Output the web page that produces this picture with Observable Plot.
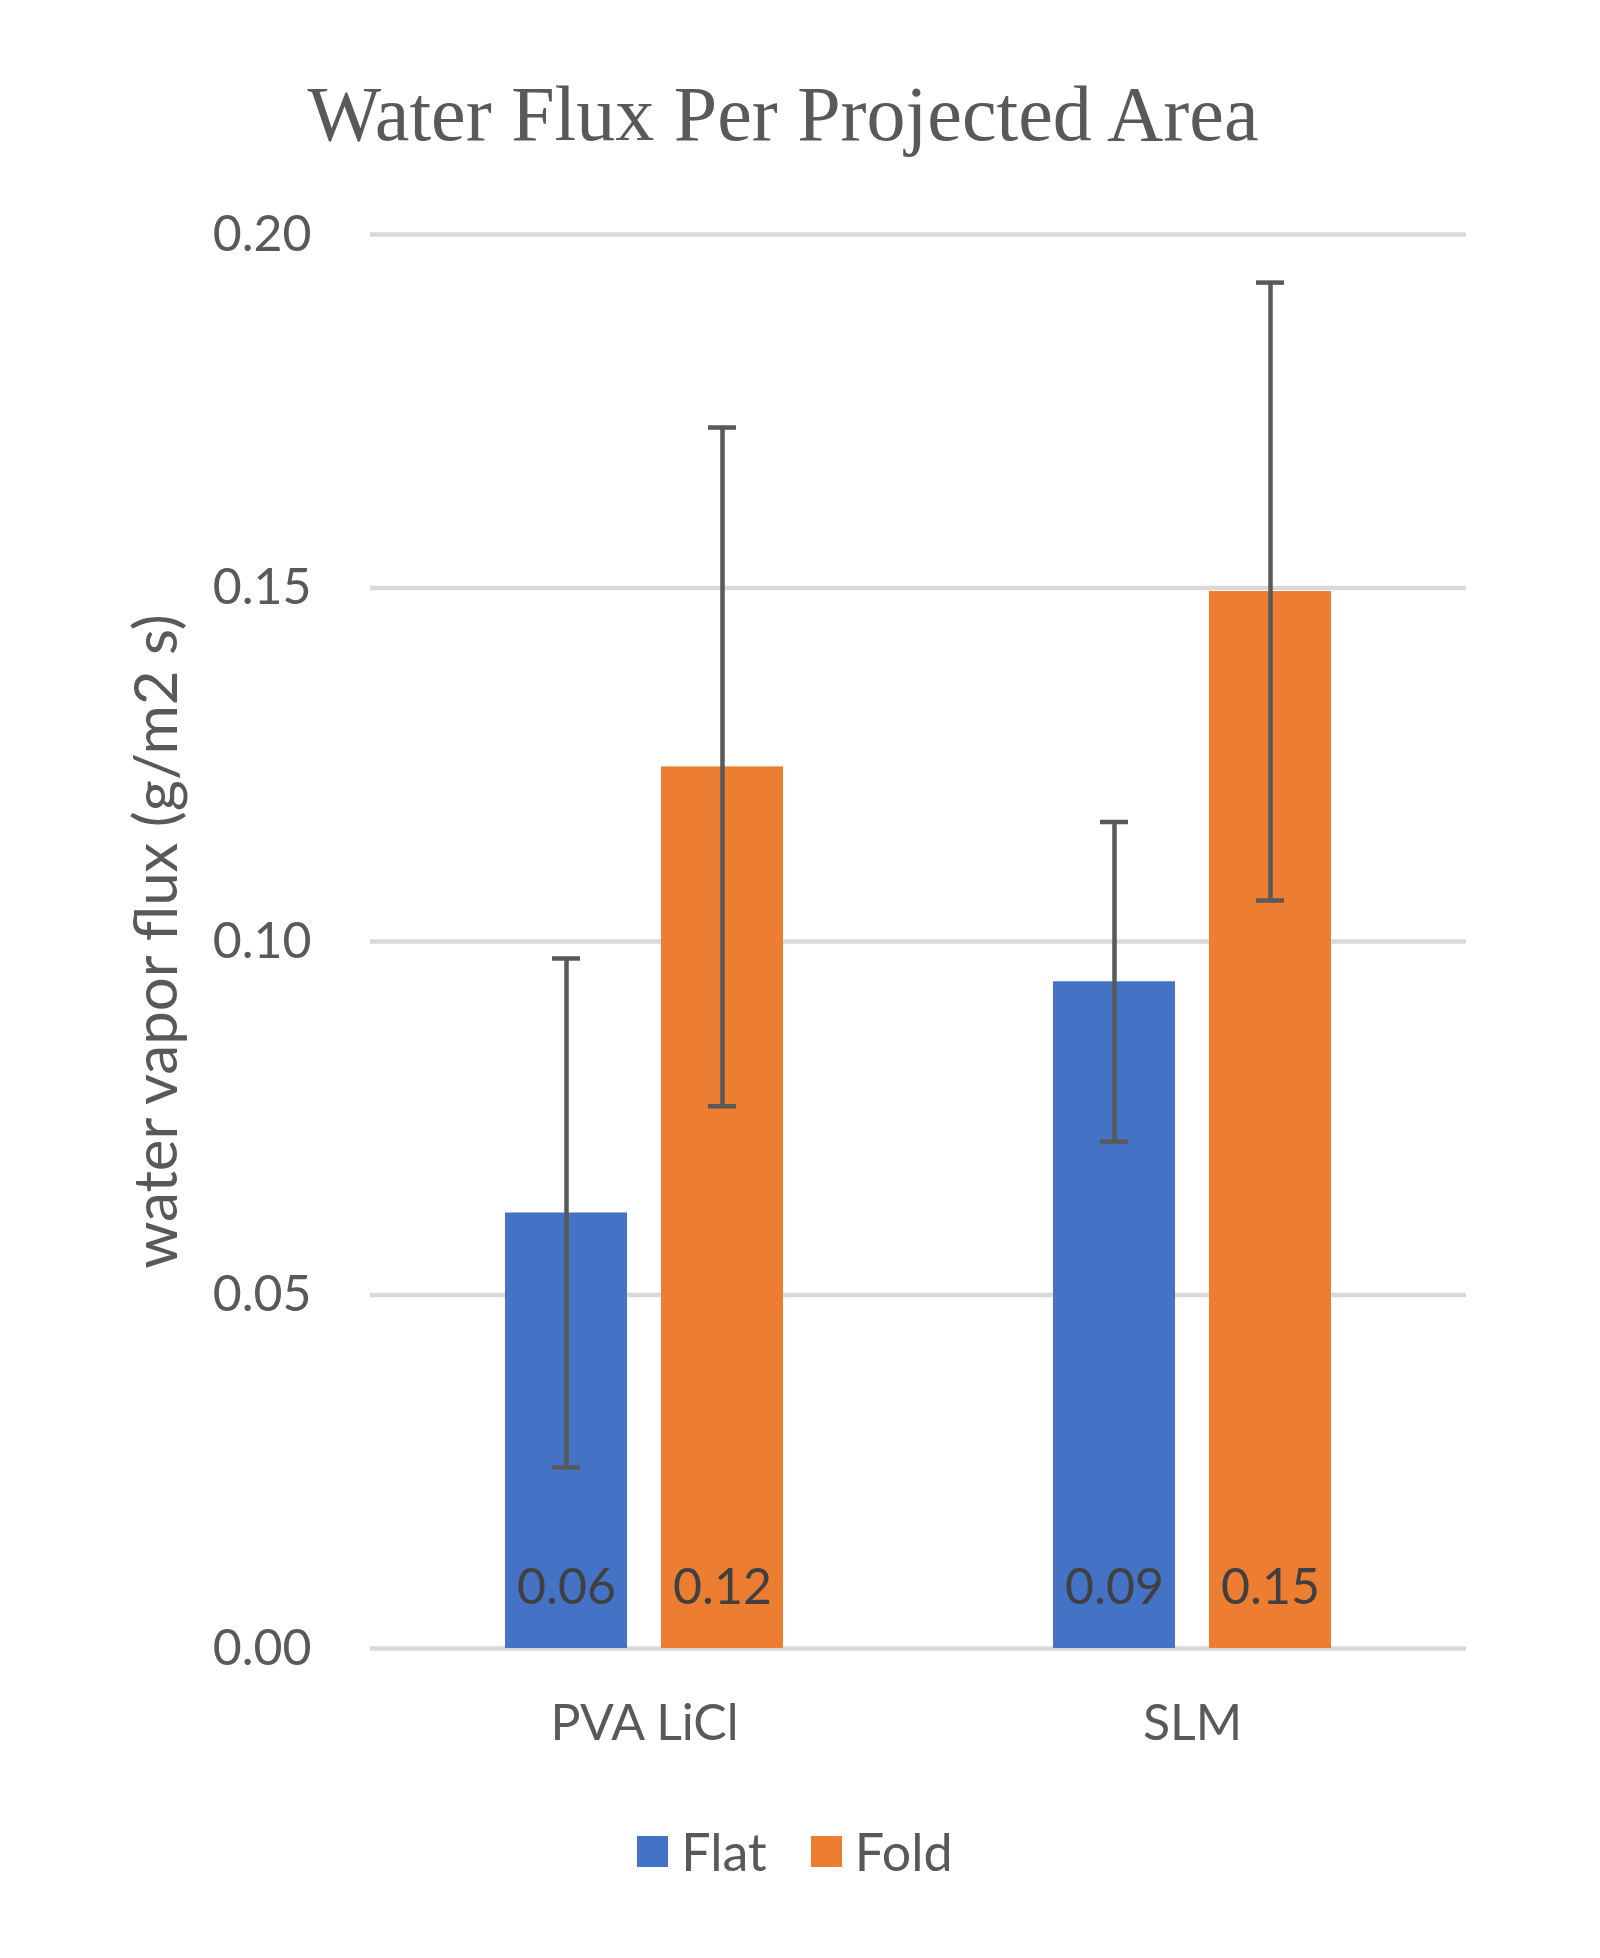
<!DOCTYPE html>
<html>
<head>
<meta charset="utf-8">
<script src="https://cdn.jsdelivr.net/npm/d3@7"></script>
<script src="https://cdn.jsdelivr.net/npm/@observablehq/plot@0.6"></script>
<style>
  body { margin: 0; background: #fff; }
  #wrap { width: 1600px; }
  #title {
    width: 1566px; height: 180px; box-sizing: border-box; padding-top: 75px;
    text-align: center; font-family: "Liberation Serif", "DejaVu Serif", serif;
    font-size: 78px; line-height: 78px; color: #595959; white-space: nowrap;
  }
  #legend {
    width: 1590px; height: 146px; display: flex; justify-content: center; align-items: center;
    font-family: Lato, sans-serif; font-size: 52px; color: #595959;
  }
  .sw { display: inline-block; width: 31px; height: 31px; margin-right: 13px; }
  .item { display: flex; align-items: center; margin: 0 22px; }
</style>
</head>
<body>
<div id="wrap">
  <div id="title">Water Flux Per Projected Area</div>
  <div id="chart"></div>
  <div id="legend"></div>
</div>
<script>
const categories = ["PVA LiCl", "SLM"];
const series = ["Flat", "Fold"];
const flatValues = [0.0616, 0.0943];
const foldValues = [0.1247, 0.1495];
const flatErrors = [0.036, 0.0226];
const foldErrors = [0.048, 0.0437];
const yTicks = [0, 0.05, 0.10, 0.15, 0.20];
const colors = ["#4472C4", "#ED7D31"];
const yLabel = "water vapor flux (g/m2 s)";

const rows = [];
categories.forEach((c, i) => {
  rows.push({cat: c, series: "Flat", value: flatValues[i], err: flatErrors[i]});
  rows.push({cat: c, series: "Fold", value: foldValues[i], err: foldErrors[i]});
});
const fmt = d3.format(".2f");

const chart = Plot.plot({
  width: 1600,
  height: 1598,
  marginTop: 54,
  marginBottom: 130,
  marginLeft: 369,
  marginRight: 134,
  style: {fontFamily: "Lato, sans-serif", color: "#595959", background: "#fff"},
  fx: {domain: categories, padding: 0},
  x: {domain: series, paddingInner: 0.2166, paddingOuter: 0.854, axis: null},
  y: {domain: [0, 0.2]},
  color: {domain: series, range: colors},
  marks: [
    Plot.ruleY(yTicks, {y: d => d, stroke: "#d9d9d9", strokeWidth: 4.5}),
    Plot.barY(rows, {fx: "cat", x: "series", y: "value", fill: "series"}),
    Plot.ruleX(rows, {fx: "cat", x: "series", y1: d => d.value - d.err, y2: d => d.value + d.err, stroke: "#595959", strokeWidth: 4.5}),
    Plot.tickY(rows, {fx: "cat", x: "series", y: d => d.value + d.err, stroke: "#595959", strokeWidth: 4.5, insetLeft: 47, insetRight: 47}),
    Plot.tickY(rows, {fx: "cat", x: "series", y: d => d.value - d.err, stroke: "#595959", strokeWidth: 4.5, insetLeft: 47, insetRight: 47}),
    Plot.text(rows, {fx: "cat", x: "series", y: 0, text: d => fmt(d.value), dy: -61, fontSize: 50, fill: "#404040", lineAnchor: "middle"}),
    Plot.axisY({ticks: yTicks, tickFormat: ".2f", tickSize: 0, tickPadding: 59, fontSize: 50, label: null}),
    Plot.axisFx({anchor: "bottom", tickSize: 0, tickPadding: 56, fontSize: 50, label: null}),
    Plot.text([yLabel], {frameAnchor: "left", rotate: -90, dx: -213, dy: 0, fontSize: 60, fill: "#595959", textAnchor: "middle", lineAnchor: "middle", facetAnchor: "left"})
  ]
});
document.getElementById("chart").appendChild(chart);

const legend = document.getElementById("legend");
series.forEach((s, i) => {
  const item = document.createElement("span");
  item.className = "item";
  const sw = document.createElement("span");
  sw.className = "sw";
  sw.style.background = colors[i];
  item.appendChild(sw);
  item.appendChild(document.createTextNode(s));
  legend.appendChild(item);
});
</script>
</body>
</html>
